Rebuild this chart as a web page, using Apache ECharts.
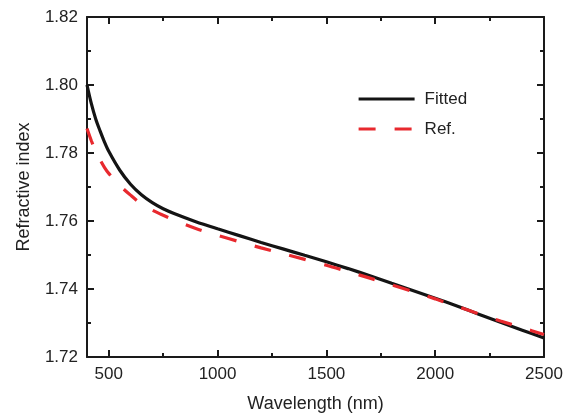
<!DOCTYPE html>
<html>
<head>
<meta charset="utf-8">
<script src="https://cdn.jsdelivr.net/npm/echarts@6/dist/echarts.min.js"></script>
<style>html,body{margin:0;padding:0;background:#fff}#c{width:569px;height:418px}</style>
</head>
<body>
<div id="c"></div>
<script>
const wavelengths = [400,420,440,460,480,500,550,600,650,700,750,800,900,1000,1100,1200,1300,1400,1500,1600,1700,1800,1900,2000,2100,2200,2300,2400,2500];
const fitted = [1.8000,1.7945,1.7900,1.7865,1.7833,1.7805,1.7750,1.7708,1.7677,1.7654,1.7636,1.7622,1.7598,1.7577,1.7557,1.7537,1.7518,1.7499,1.7480,1.7460,1.7439,1.7417,1.7395,1.7373,1.7350,1.7326,1.7302,1.7279,1.7256];
const reference = [1.7872,1.7836,1.7805,1.7780,1.7758,1.7740,1.7705,1.7676,1.7650,1.7632,1.7617,1.7603,1.7578,1.7558,1.7539,1.7521,1.7504,1.7487,1.7470,1.7451,1.7432,1.7412,1.7392,1.7371,1.7349,1.7327,1.7306,1.7286,1.7266];
const xMajorTicks = [500,1000,1500,2000,2500];
const xMinorTicks = [750,1250,1750,2250];
const seriesNames = ['Fitted','Ref.'];

const FONT = 'Liberation Sans';
const TXT = '#222';
const AX = '#1a1a1a';

function pairs(ys){ return wavelengths.map((w,i)=>[w, ys[i]]); }

function xAx(pos, ticks, len, opts){
  return Object.assign({
    type:'value', position:pos, min:400, max:2500,
    axisLine:{show:true, onZero:false, lineStyle:{color:AX, width:2}},
    axisTick:{show:true, inside:true, length:len, customValues:ticks, lineStyle:{color:AX, width:2}},
    axisLabel:{show:false},
    splitLine:{show:false}
  }, opts||{});
}

const chart = echarts.init(document.getElementById('c'), null, {renderer:'canvas'});
chart.setOption({
  animation:false,
  backgroundColor:'#fff',
  grid:{left:87, right:25, top:17, bottom:56.5, containLabel:false},
  legend:{
    orient:'vertical', left:352, top:84, itemWidth:56, itemHeight:14, itemGap:10,
    data:seriesNames,
    itemStyle:{opacity:0, borderWidth:0},
    lineStyle:{width:3.2},
    textStyle:{fontFamily:FONT, fontSize:17, color:TXT, lineHeight:20, padding:[0,0,0,5]}
  },
  xAxis:[
    xAx('bottom', xMajorTicks, 7, {
      axisLabel:{show:true, customValues:xMajorTicks, fontFamily:FONT, fontSize:17, color:TXT, margin:9, formatter:v=>String(v)},
      name:'Wavelength (nm)', nameLocation:'middle', nameGap:38,
      nameTextStyle:{fontFamily:FONT, fontSize:18, color:TXT}
    }),
    xAx('bottom', xMinorTicks, 4, {axisLine:{show:false}}),
    xAx('top', xMajorTicks, 7),
    xAx('top', xMinorTicks, 4, {axisLine:{show:false}})
  ],
  yAxis:[
    {
      type:'value', position:'left', min:1.72, max:1.82, interval:0.02,
      axisLine:{show:true, onZero:false, lineStyle:{color:AX, width:2}},
      axisTick:{show:true, inside:true, length:7, lineStyle:{color:AX, width:2}},
      minorTick:{show:true, splitNumber:2, length:4, lineStyle:{color:AX, width:2}},
      axisLabel:{fontFamily:FONT, fontSize:17, color:TXT, margin:9, formatter:v=>v.toFixed(2)},
      splitLine:{show:false},
      name:'Refractive index', nameLocation:'middle', nameGap:54,
      nameTextStyle:{fontFamily:FONT, fontSize:18, color:TXT}
    },
    {
      type:'value', position:'right', min:1.72, max:1.82, interval:0.02,
      axisLine:{show:true, onZero:false, lineStyle:{color:AX, width:2}},
      axisTick:{show:true, inside:true, length:7, lineStyle:{color:AX, width:2}},
      minorTick:{show:true, splitNumber:2, length:4, lineStyle:{color:AX, width:2}},
      axisLabel:{show:false},
      splitLine:{show:false}
    }
  ],
  series:[
    {name:seriesNames[0], type:'line', xAxisIndex:0, yAxisIndex:0, data:pairs(fitted), smooth:0.3,
     symbol:'none', lineStyle:{color:'#141414', width:3.2}, itemStyle:{color:'#141414'}, z:2},
    {name:seriesNames[1], type:'line', xAxisIndex:0, yAxisIndex:0, data:pairs(reference), smooth:0.3,
     symbol:'none', lineStyle:{color:'#e8292e', width:3.2, type:[17,19]}, itemStyle:{color:'#e8292e'}, z:3}
  ]
});
</script>
</body>
</html>
